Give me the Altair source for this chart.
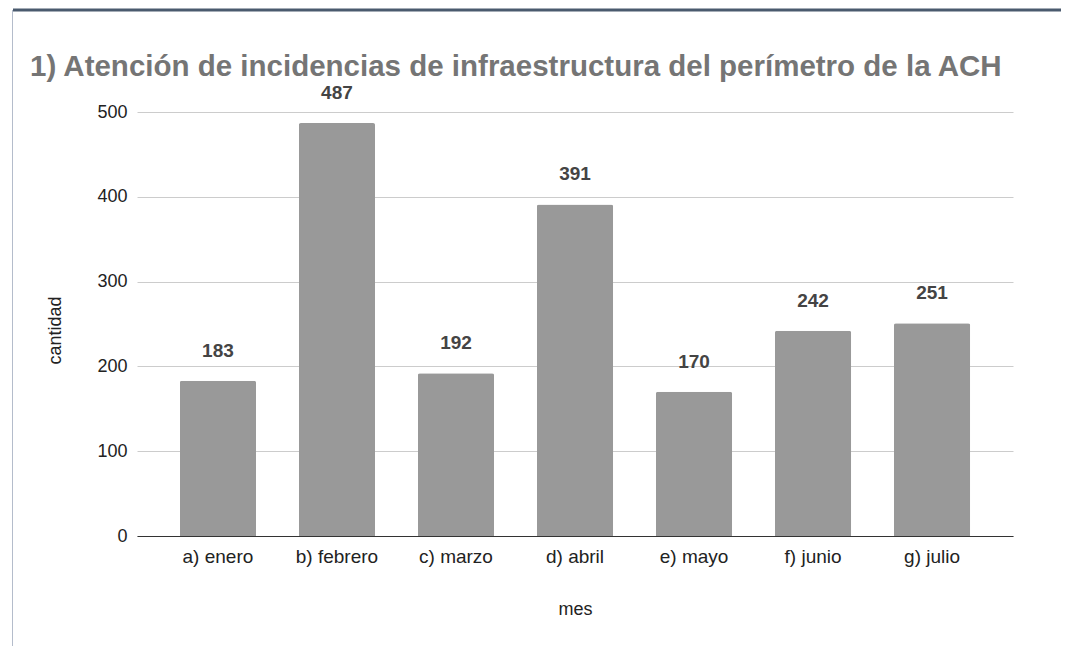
import altair as alt
import pandas as pd

titulo = "1) Atención de incidencias de infraestructura del perímetro de la ACH"
meses = ["a) enero", "b) febrero", "c) marzo", "d) abril", "e) mayo", "f) junio", "g) julio"]
cantidad = [183, 487, 192, 391, 170, 242, 251]
y_ticks = [0, 100, 200, 300, 400, 500]

df = pd.DataFrame({"mes": meses, "cantidad": cantidad})
one = pd.DataFrame({"k": [0]})

FONT = "Liberation Sans"

x_enc = alt.X("mes:N", sort=meses,
              scale=alt.Scale(paddingInner=0.36, paddingOuter=0.36),
              axis=alt.Axis(title="mes", labelAngle=0, labelFontSize=19, labelColor="#222222",
                            labelFont=FONT, labelPadding=11, ticks=False,
                            domainColor="#333333", domainWidth=1.2,
                            titleFont=FONT, titleFontSize=18, titleFontWeight="normal",
                            titleColor="#222222", titlePadding=34))
y_enc = alt.Y("cantidad:Q",
              scale=alt.Scale(domain=[0, 500]),
              axis=alt.Axis(title="cantidad", values=y_ticks, labelFontSize=18, labelColor="#222222",
                            labelFont=FONT, labelPadding=10, ticks=False, domain=False,
                            gridColor="#cccccc", gridWidth=1,
                            titleFont=FONT, titleFontSize=18, titleFontWeight="normal",
                            titleColor="#222222", titlePadding=32, titleY=218))

base = alt.Chart(df)

bars = base.mark_bar(color="#999999", cornerRadiusTopLeft=2, cornerRadiusTopRight=2).encode(
    x=x_enc, y=y_enc)

labels = base.mark_text(baseline="alphabetic", dy=-24, fontSize=19, fontWeight="bold",
                        color="#444444", font=FONT).encode(
    x=alt.X("mes:N", sort=meses), y="cantidad:Q", text="cantidad:Q")

title_mark = alt.Chart(one).mark_text(align="left", baseline="alphabetic", fontSize=29.5,
                                      fontWeight="bold", color="#757575", font=FONT).encode(
    x=alt.value(-107), y=alt.value(-36), text=alt.value(titulo))

top_border = alt.Chart(one).mark_rule(color="#4a5a6e", strokeWidth=3).encode(
    x=alt.value(-124), x2=alt.value(931), y=alt.value(-102), y2=alt.value(-102))
left_border = alt.Chart(one).mark_rule(color="#b4bccb", strokeWidth=1).encode(
    x=alt.value(-124.5), x2=alt.value(-124.5), y=alt.value(-102), y2=alt.value(540))

chart = alt.layer(bars, labels, title_mark, top_border, left_border).properties(
    width=876, height=424,
    autosize=alt.AutoSizeParams(type="none"),
    padding={"left": 129, "top": 104, "right": 48, "bottom": 110},
).configure_view(stroke=None)

chart.save("out.html", embed_options={"renderer": "svg", "actions": False})
